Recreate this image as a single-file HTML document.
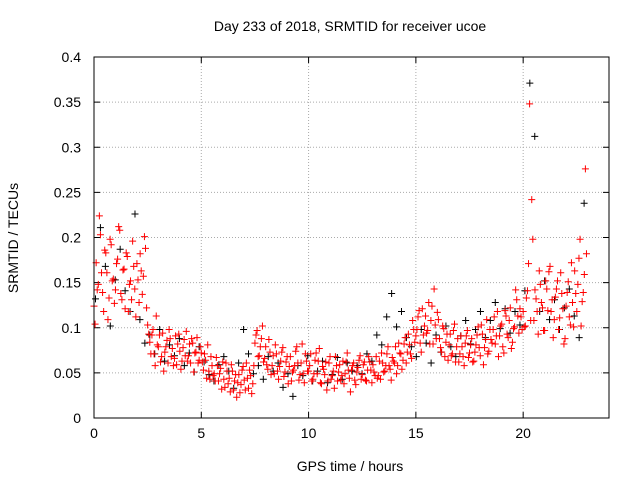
<!DOCTYPE html>
<html><head><meta charset="utf-8"><style>
body{margin:0;background:#fff}
svg{display:block;font-family:"Liberation Sans",sans-serif}
</style></head><body>
<svg id="chart" width="640" height="480" viewBox="0 0 640 480" xmlns="http://www.w3.org/2000/svg">
<rect width="640" height="480" fill="#fff"/>
<text x="350" y="31" font-size="14" text-anchor="middle">Day 233 of 2018, SRMTID for receiver ucoe</text>
<text x="350" y="471" font-size="14" text-anchor="middle">GPS time / hours</text>
<text transform="translate(18,238) rotate(-90)" font-size="14" text-anchor="middle">SRMTID / TECUs</text>
<g id="grid"></g>
<g id="ticks"></g>
<g id="black"></g>
<g id="red"></g>
<rect x="94" y="57" width="515" height="361" fill="none" stroke="#000" stroke-width="1"/>
</svg>
<script>
const xTicks=[0,5,10,15,20];
const yTicks=[0,0.05,0.1,0.15,0.2,0.25,0.3,0.35,0.4];
const yTickLabels=["0","0.05","0.1","0.15","0.2","0.25","0.3","0.35","0.4"];
const redVals=[.124,.172,.148,.203,.139,.186,.161,.133,.192,.154,.142,.176,.208,.131,.165,.183,.118,.152,.196,.143,.171,.128,.163,.157,.188,
.103,.084,.092,.071,.113,.079,.062,.094,.073,.086,.098,.068,.058,.091,.082,.074,.063,.087,.096,.069,.061,.083,.072,.089,.064,
.072,.053,.064,.081,.043,.058,.049,.067,.041,.055,.062,.034,.052,.044,.059,.031,.048,.039,.028,.053,.042,.061,.033,.047,.038,
.083,.097,.069,.088,.062,.079,.054,.073,.058,.049,.071,.043,.063,.078,.051,.068,.057,.041,.053,.074,.061,.048,.082,.039,.063,
.052,.071,.043,.064,.049,.077,.038,.054,.062,.041,.068,.047,.033,.058,.051,.042,.063,.049,.072,.044,.053,.061,.037,.056,.069,
.048,.062,.041,.068,.053,.059,.047,.044,.063,.072,.051,.058,.079,.054,.067,.061,.049,.083,.071,.064,.089,.073,.081,.066,.098,
.091,.112,.083,.121,.102,.094,.128,.108,.082,.103,.117,.088,.073,.099,.084,.064,.093,.071,.104,.079,.062,.091,.068,.083,.097,
.072,.088,.063,.081,.101,.069,.093,.078,.109,.074,.087,.098,.082,.118,.091,.104,.072,.113,.089,.122,.084,.101,.131,.094,.112,
.118,.102,.141,.348,.242,.108,.132,.093,.148,.122,.097,.143,.162,.118,.089,.134,.152,.111,.138,.082,.124,.151,.103,.128,.163,
.118,.177,.102,.139,.276];
const redVals2=[.104,.142,.224,.161,.118,.183,.109,.198,.152,.127,.171,.212,.138,.164,.121,.179,.148,.131,.168,.112,.153,.182,.137,.201,.122,
.093,.071,.098,.058,.081,.092,.068,.052,.079,.061,.088,.077,.066,.059,.093,.054,.078,.069,.063,.082,.088,.051,.073,.061,.079,
.062,.071,.044,.052,.068,.047,.041,.058,.049,.032,.043,.061,.038,.029,.052,.041,.023,.048,.037,.057,.031,.044,.053,.027,.058,
.092,.068,.079,.102,.066,.059,.087,.048,.069,.081,.052,.057,.073,.046,.062,.038,.068,.051,.058,.079,.042,.061,.049,.071,.052,
.058,.041,.049,.072,.063,.039,.057,.048,.031,.061,.043,.052,.068,.041,.059,.047,.038,.062,.053,.029,.058,.042,.051,.064,.043,
.059,.042,.053,.062,.039,.051,.068,.047,.043,.061,.052,.071,.058,.042,.063,.079,.058,.072,.054,.082,.061,.093,.071,.108,.084,
.098,.119,.073,.092,.113,.097,.082,.124,.143,.088,.109,.078,.102,.068,.093,.081,.069,.097,.062,.088,.071,.079,.058,.091,.067,
.081,.062,.073,.092,.078,.103,.059,.087,.071,.098,.083,.112,.091,.068,.102,.079,.119,.093,.108,.077,.099,.142,.113,.121,.098,
.101,.133,.171,.108,.198,.142,.118,.163,.128,.097,.152,.119,.168,.131,.109,.143,.098,.161,.121,.088,.139,.112,.172,.101,.138,
.148,.198,.129,.159,.182];
const blackVals=[.132,.211,.168,.102,.153,.187,.141,.118,.226,.109,
.083,.092,.071,.098,.063,.081,.069,.088,.058,.072,
.051,.079,.062,.048,.041,.059,.068,.052,.033,.061,
.098,.071,.049,.058,.043,.068,.052,.061,.034,.049,
.024,.058,.047,.069,.041,.052,.063,.039,.048,.067,
.043,.061,.052,.058,.049,.071,.063,.092,.081,.112,
.138,.101,.118,.089,.079,.068,.098,.083,.061,.092,
.073,.102,.079,.068,.091,.108,.082,.098,.118,.089,
.108,.128,.099,.121,.094,.118,.103,.141,
.371,.312,.118,.152,.109,.131,.098,.122,.143,.113,.089,.238];
const redTimes=redVals.map((_,i)=>i*0.1);
const redTimes2=redVals2.map((_,i)=>i*0.1+0.05);
const blackTimes=blackVals.map((_,i)=>i*0.23+0.07);
const NS="http://www.w3.org/2000/svg";
const X=t=>94+t*(515/24);
const Y=v=>418-v*(361/0.4);
function mk(tag,attrs,parent){const e=document.createElementNS(NS,tag);for(const k in attrs)e.setAttribute(k,attrs[k]);parent.appendChild(e);return e;}
const grid=document.getElementById('grid'),ticks=document.getElementById('ticks');
xTicks.forEach(t=>{
 const l=mk('line',{x1:X(t),x2:X(t),y1:57,y2:418,stroke:'#aaa','stroke-dasharray':'1,2'},grid);
 
 
 const tk=mk('path',{d:`M${X(t)},418v-6M${X(t)},57v6`,stroke:'#000'},ticks);
 
 
 const tx=mk('text',{x:X(t),y:438,'font-size':14,'text-anchor':'middle'},ticks);tx.textContent=t;
 
 
});
yTicks.forEach((v,i)=>{
 const l=mk('line',{x1:94,x2:609,y1:Y(v),y2:Y(v),stroke:'#aaa','stroke-dasharray':'1,2'},grid);
 
 
 const tk=mk('path',{d:`M94,${Y(v)}h6M609,${Y(v)}h-6`,stroke:'#000'},ticks);
 
 
 const tx=mk('text',{x:81,y:Y(v)+5,'font-size':14,'text-anchor':'end'},ticks);tx.textContent=yTickLabels[i];
 
 
});
function plus(g,t,v,c){
 const p=mk('path',{d:`M${X(t)-3.5},${Y(v)}h7M${X(t)},${Y(v)-3.5}v7`,stroke:c,'stroke-width':1},g);
 
 
}
const bg=document.getElementById('black'),rg=document.getElementById('red');
blackVals.forEach((v,i)=>plus(bg,blackTimes[i],v,'#000'));
redVals.forEach((v,i)=>plus(rg,redTimes[i],v,'#f00'));
redVals2.forEach((v,i)=>plus(rg,redTimes2[i],v,'#f00'));
</script>
</body></html>
